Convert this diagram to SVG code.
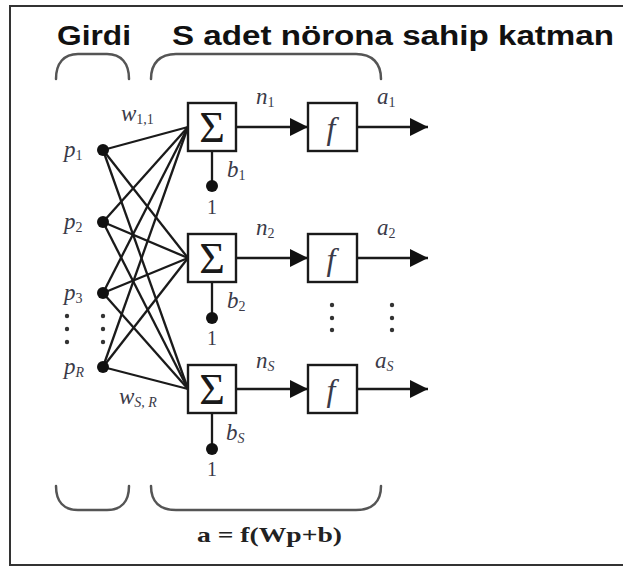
<svg xmlns="http://www.w3.org/2000/svg" width="623" height="566" viewBox="0 0 623 566">
<defs>
<style>
.title{font-family:"Liberation Sans",Arial,sans-serif;font-weight:bold;font-size:27px;fill:#111}
.lbl{font-family:"Liberation Serif","Times New Roman",serif;font-style:italic;font-size:23px;fill:#3a3a48}
.sub{font-size:14px}
.up{font-style:normal}
.one{font-family:"Liberation Serif","Times New Roman",serif;font-size:20px;fill:#3a3a48;text-anchor:middle}
.sig{font-family:"Liberation Serif","Times New Roman",serif;font-size:44px;fill:#1a1a1a;text-anchor:middle}
.fx{font-family:"Liberation Serif","Times New Roman",serif;font-style:italic;font-size:32px;fill:#3a3a48;text-anchor:middle}
.box{fill:#fff;stroke:#1a1a1a;stroke-width:2.4}
.ln{stroke:#1a1a1a;stroke-width:2.3;fill:none}
.br{stroke:#555;stroke-width:2.5;fill:none;stroke-linecap:round}
.dot{fill:#111}
.sd{fill:#333}
</style>
<marker id="ah2" viewBox="0 0 18 18" refX="18" refY="9" markerWidth="18" markerHeight="18" markerUnits="userSpaceOnUse" orient="auto">
<path d="M0,0 L18,9 L0,18 z" fill="#111"/>
</marker>
</defs>
<rect width="623" height="566" fill="#fff"/>
<path d="M623,6 H10 V565 H623" fill="none" stroke="#333" stroke-width="2"/>

<g id="titles">
<text class="title" x="57" y="45" textLength="74" lengthAdjust="spacingAndGlyphs">Girdi</text>
<text class="title" x="172" y="45" textLength="442" lengthAdjust="spacingAndGlyphs">S adet nörona sahip katman</text>
</g>

<g id="braces">
<path class="br" d="M56,79 C56,63 64,54 78,54 L107,54 C121,54 129,63 129,79"/>
<path class="br" d="M151,79 C151,63 160,54 176,54 L356,54 C372,54 381,63 381,79"/>
<path class="br" d="M56,486 C56,502 64,510 78,510 L107,510 C121,510 129,502 129,486"/>
<path class="br" d="M151,486 C151,502 160,510 176,510 L356,510 C372,510 381,502 381,486"/>
</g>

<g id="connectors">
<line class="ln" x1="103" y1="150" x2="188" y2="127"/>
<line class="ln" x1="103" y1="150" x2="188" y2="258"/>
<line class="ln" x1="103" y1="150" x2="188" y2="389"/>
<line class="ln" x1="103" y1="222" x2="188" y2="127"/>
<line class="ln" x1="103" y1="222" x2="188" y2="258"/>
<line class="ln" x1="103" y1="222" x2="188" y2="389"/>
<line class="ln" x1="103" y1="293" x2="188" y2="127"/>
<line class="ln" x1="103" y1="293" x2="188" y2="258"/>
<line class="ln" x1="103" y1="293" x2="188" y2="389"/>
<line class="ln" x1="103" y1="367" x2="188" y2="127"/>
<line class="ln" x1="103" y1="367" x2="188" y2="258"/>
<line class="ln" x1="103" y1="367" x2="188" y2="389"/>
<line class="ln" x1="212" y1="151" x2="212" y2="186"/>
<line class="ln" x1="212" y1="282" x2="212" y2="318"/>
<line class="ln" x1="212" y1="413" x2="212" y2="449"/>
<line class="ln" x1="236" y1="127" x2="308" y2="127" marker-end="url(#ah2)"/>
<line class="ln" x1="236" y1="258" x2="308" y2="258" marker-end="url(#ah2)"/>
<line class="ln" x1="236" y1="389" x2="308" y2="389" marker-end="url(#ah2)"/>
<line class="ln" x1="357" y1="127" x2="428" y2="127" marker-end="url(#ah2)"/>
<line class="ln" x1="357" y1="258" x2="428" y2="258" marker-end="url(#ah2)"/>
<line class="ln" x1="357" y1="389" x2="428" y2="389" marker-end="url(#ah2)"/>
</g>

<g id="inputs">
<circle class="dot" cx="103" cy="150" r="6"/>
<circle class="dot" cx="103" cy="222" r="6"/>
<circle class="dot" cx="103" cy="293" r="6"/>
<circle class="dot" cx="103" cy="367" r="6"/>
<text class="lbl" x="64" y="157">p<tspan class="sub up" dy="3">1</tspan></text>
<text class="lbl" x="64" y="229">p<tspan class="sub up" dy="3">2</tspan></text>
<text class="lbl" x="64" y="300">p<tspan class="sub up" dy="3">3</tspan></text>
<text class="lbl" x="64" y="374">p<tspan class="sub" dy="3">R</tspan></text>
<circle class="sd" cx="67" cy="316" r="2.2"/><circle class="sd" cx="67" cy="329" r="2.2"/><circle class="sd" cx="67" cy="342" r="2.2"/>
<circle class="sd" cx="103" cy="316" r="2.2"/><circle class="sd" cx="103" cy="329" r="2.2"/><circle class="sd" cx="103" cy="342" r="2.2"/>
<text class="lbl" x="121" y="121">w<tspan class="sub up" dy="3">1,1</tspan></text>
<text class="lbl" x="119" y="404">w<tspan class="sub" dy="3">S, R</tspan></text>
</g>

<g id="sum1">
<rect class="box" x="188" y="103" width="48" height="48"/>
<text class="sig" x="212" y="142">Σ</text>
<circle class="dot" cx="212" cy="186" r="6"/>
<text class="lbl" x="227" y="177">b<tspan class="sub up" dy="3">1</tspan></text>
<text class="one" x="212" y="214">1</text>
</g>
<g id="sum2">
<rect class="box" x="188" y="234" width="48" height="48"/>
<text class="sig" x="212" y="273">Σ</text>
<circle class="dot" cx="212" cy="318" r="6"/>
<text class="lbl" x="227" y="308">b<tspan class="sub up" dy="3">2</tspan></text>
<text class="one" x="212" y="345">1</text>
</g>
<g id="sumS">
<rect class="box" x="188" y="365" width="48" height="48"/>
<text class="sig" x="212" y="404">Σ</text>
<circle class="dot" cx="212" cy="449" r="6"/>
<text class="lbl" x="226" y="440">b<tspan class="sub" dy="3">S</tspan></text>
<text class="one" x="212" y="476">1</text>
</g>

<g id="f1">
<rect class="box" x="308" y="103" width="49" height="48"/>
<text class="fx" x="331" y="139">f</text>
</g>
<g id="f2">
<rect class="box" x="308" y="234" width="49" height="48"/>
<text class="fx" x="331" y="270">f</text>
</g>
<g id="fS">
<rect class="box" x="308" y="365" width="49" height="48"/>
<text class="fx" x="331" y="401">f</text>
</g>

<g id="signals">
<text class="lbl" x="256" y="104">n<tspan class="sub up" dy="3">1</tspan></text>
<text class="lbl" x="377" y="104">a<tspan class="sub up" dy="3">1</tspan></text>
<text class="lbl" x="256" y="235">n<tspan class="sub up" dy="3">2</tspan></text>
<text class="lbl" x="377" y="235">a<tspan class="sub up" dy="3">2</tspan></text>
<text class="lbl" x="256" y="368">n<tspan class="sub" dy="3">S</tspan></text>
<text class="lbl" x="375" y="368">a<tspan class="sub" dy="3">S</tspan></text>
<circle class="sd" cx="332" cy="305" r="2.2"/><circle class="sd" cx="332" cy="318" r="2.2"/><circle class="sd" cx="332" cy="330" r="2.2"/>
<circle class="sd" cx="392" cy="305" r="2.2"/><circle class="sd" cx="392" cy="318" r="2.2"/><circle class="sd" cx="392" cy="330" r="2.2"/>
</g>

<g id="formula">
<text x="197" y="542" font-family="'Liberation Serif','Times New Roman',serif" font-weight="bold" font-size="22" fill="#222" textLength="145" lengthAdjust="spacingAndGlyphs">a = f(Wp+b)</text>
</g>
</svg>
